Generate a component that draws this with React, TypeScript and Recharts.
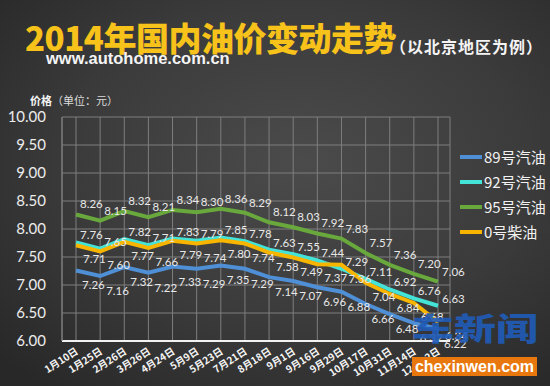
import { LineChart, Line, XAxis, YAxis, CartesianGrid, LabelList } from 'recharts';

const dates = [
  '1月10日', '1月25日', '2月26日', '3月26日', '4月24日', '5月9日', '5月23日', '7月21日',
  '8月18日', '9月1日', '9月16日', '9月29日', '10月17日', '10月31日', '11月14日', '12月12日',
];

const gas89 = [7.26, 7.16, 7.32, 7.22, 7.33, 7.29, 7.35, 7.29, 7.14, 7.07, 6.96, 6.88, 6.66, 6.48, 6.32, 6.22];
const gas92 = [7.76, 7.65, 7.82, 7.71, 7.83, 7.79, 7.85, 7.78, 7.63, 7.55, 7.44, 7.29, 7.11, 6.92, 6.76, 6.63];
const gas95 = [8.26, 8.15, 8.32, 8.21, 8.34, 8.30, 8.36, 8.29, 8.12, 8.03, 7.92, 7.83, 7.57, 7.36, 7.20, 7.06];
const diesel0 = [7.71, 7.60, 7.77, 7.66, 7.79, 7.74, 7.80, 7.74, 7.58, 7.49, 7.37, 7.36, 7.04, 6.84, 6.68, 6.34];

const yTicks = [6, 6.5, 7, 7.5, 8, 8.5, 9, 9.5, 10];

const series = [
  { key: 'g89', name: '89号汽油', color: '#4f8fd6', dx: 6, dy: 19 },
  { key: 'g92', name: '92号汽油', color: '#44e3d8', dx: 4, dy: -3 },
  { key: 'g95', name: '95号汽油', color: '#68a83c', dx: 4, dy: -6 },
  { key: 'd0', name: '0号柴油', color: '#f7b500', dx: 7, dy: 18 },
];

const cjk = '"Noto Sans CJK SC", sans-serif';

const XTick = (props: any) => {
  const { x, y, payload } = props;
  const ax = x + 3;
  const ay = y + 12;
  return (
    <text
      x={ax}
      y={ay}
      textAnchor="end"
      fill="#f4f4f4"
      fontSize={10}
      fontWeight="bold"
      fontFamily={cjk}
      transform={`rotate(-33 ${ax} ${ay})`}
    >
      {payload.value}
    </text>
  );
};

const makeLabel = (dx: number, dy: number) => (p: any) => {
  if (p.value == null) return null;
  return (
    <text x={p.x + dx} y={p.y + dy} fill="#e8e8e8" fontSize={11.5} fontFamily="Lato, sans-serif">
      {Number(p.value).toFixed(2)}
    </text>
  );
};

const App = () => {
  const data = dates.map((d, i) => ({
    date: d,
    g89: gas89[i],
    g92: gas92[i],
    g95: gas95[i],
    d0: diesel0[i],
  }));

  return (
    <div
      style={{
        position: 'absolute',
        left: 0,
        top: 0,
        width: 550,
        height: 386,
        overflow: 'hidden',
        background: 'radial-gradient(ellipse 75% 75% at 55% 42%, #4b4b4b 0%, #3b3b3b 55%, #282828 100%)',
        fontFamily: cjk,
      }}
    >
      <div
        style={{
          position: 'absolute',
          left: 25,
          top: 21,
          fontSize: 33,
          lineHeight: '33px',
          fontWeight: 900,
          color: '#f7c21a',
          letterSpacing: -0.5,
          whiteSpace: 'nowrap',
        }}
      >
        2014年国内油价变动走势
      </div>
      <div
        style={{
          position: 'absolute',
          left: 390,
          top: 38,
          fontSize: 16,
          lineHeight: '17px',
          fontWeight: 'bold',
          color: '#f4f4f4',
          letterSpacing: 1,
          whiteSpace: 'nowrap',
        }}
      >
        （以北京地区为例）
      </div>
      <div
        style={{
          position: 'absolute',
          left: 46,
          top: 49,
          fontSize: 16.5,
          lineHeight: '18px',
          fontWeight: 'bold',
          color: '#f4f4f4',
          fontFamily: '"Liberation Sans", Arial, sans-serif',
        }}
      >
        www.autohome.com.cn
      </div>
      <div
        style={{
          position: 'absolute',
          left: 30,
          top: 93,
          fontSize: 11,
          lineHeight: '14px',
          color: '#dcdcdc',
          whiteSpace: 'nowrap',
        }}
      >
        <b style={{ color: '#f4f4f4' }}>价格</b>（单位：元）
      </div>

      <div style={{ position: 'absolute', left: 0, top: 0 }}>
        <LineChart width={550} height={386} data={data} margin={{ top: 117, right: 100, bottom: 15, left: 0 }}>
          <CartesianGrid stroke="#7e7e7e" strokeWidth={1} />
          <XAxis
            dataKey="date"
            height={30}
            interval={0}
            padding={{ left: 14, right: 12 }}
            axisLine={{ stroke: '#f2f2f2', strokeWidth: 2 }}
            tickLine={false}
            tickSize={0}
            tickMargin={0}
            tick={XTick}
          />
          <YAxis
            width={62}
            domain={[6, 10]}
            ticks={yTicks}
            interval={0}
            axisLine={{ stroke: '#7e7e7e' }}
            tickLine={false}
            tickSize={0}
            tickMargin={16}
            tick={{ fill: '#ececec', fontSize: 15, fontFamily: 'Lato, sans-serif' }}
            tickFormatter={(v: number) => v.toFixed(2)}
          />
          {series.map((s) => (
            <Line
              key={s.key}
              type="linear"
              dataKey={s.key}
              name={s.name}
              stroke={s.color}
              strokeWidth={4}
              dot={false}
              activeDot={false}
              isAnimationActive={false}
            >
              <LabelList dataKey={s.key} content={makeLabel(s.dx, s.dy)} />
            </Line>
          ))}
        </LineChart>
      </div>

      {series.map((s, i) => (
        <div
          key={s.key}
          style={{
            position: 'absolute',
            left: 460,
            top: 147 + i * 25,
            height: 20,
            display: 'flex',
            alignItems: 'center',
            whiteSpace: 'nowrap',
          }}
        >
          <span style={{ display: 'inline-block', width: 22, height: 4, background: s.color, marginRight: 2 }} />
          <span style={{ color: '#f2f2f2', fontSize: 15, lineHeight: '20px' }}>{s.name}</span>
        </div>
      ))}

      <div
        style={{
          position: 'absolute',
          left: 412,
          top: 311,
          fontSize: 42,
          lineHeight: '42px',
          fontWeight: 900,
          color: 'rgba(32, 92, 184, 0.92)',
          transform: 'scaleY(0.74)',
          transformOrigin: 'top left',
          whiteSpace: 'nowrap',
        }}
      >
        车新闻
      </div>
      <div
        style={{
          position: 'absolute',
          left: 412,
          top: 357,
          width: 125,
          height: 19,
          background: '#e8770e',
          color: '#ffffff',
          fontSize: 16,
          lineHeight: '19px',
          fontWeight: 'bold',
          textAlign: 'center',
          fontFamily: '"Liberation Sans", Arial, sans-serif',
        }}
      >
        chexinwen.com
      </div>
    </div>
  );
};

export default App;
